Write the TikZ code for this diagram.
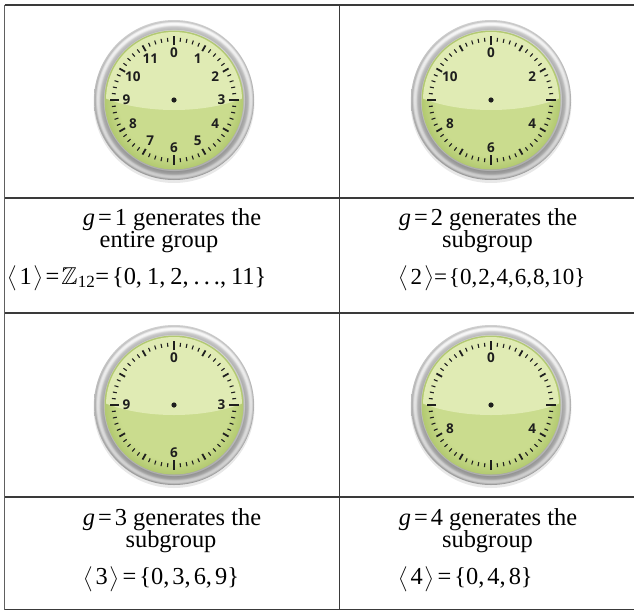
\RequirePackage{fix-cm}
\documentclass[tikz,border=0pt]{standalone}
\usepackage{amsmath,amssymb}
\usepackage{fontspec}
\setmainfont{Liberation Serif}
\newfontfamily\dialfont{Open Sans}

\definecolor{faceHi}{HTML}{E0EBB4}
\definecolor{faceLo}{HTML}{CADC8E}
\definecolor{faceRim}{HTML}{B2C970}
\definecolor{gridline}{HTML}{3A3A3A}
\definecolor{inkdark}{HTML}{1E1E1E}

% green dial: flat centre, darker towards the rim (25bp = face radius)
\pgfdeclareradialshading{dialface}{\pgfpoint{0bp}{0bp}}{%
  color(0bp)=(faceLo); color(20bp)=(faceLo); color(25bp)=(faceRim); color(50bp)=(faceRim)}
% metal bezel rings (25bp = outer radius 80)
\pgfdeclareradialshading{bezel}{\pgfpoint{0bp}{0bp}}{%
  color(0bp)=(gray!50); color(21.5bp)=(gray!50); color(21.8bp)=(gray!25);
  color(22.2bp)=(gray!62); color(23.0bp)=(gray!48); color(23.5bp)=(gray!12);
  color(24.0bp)=(white); color(24.4bp)=(gray!25); color(24.8bp)=(gray!60);
  color(25bp)=(gray!45); color(50bp)=(gray!45)}

% angle-bracket generator notation and set punctuation
\newcommand{\gen}[1]{{\fontsize{21}{21}\selectfont$\big\langle$}\hspace{2.5pt}#1\hspace{2pt}{\fontsize{21}{21}\selectfont$\big\rangle$}}
\newcommand{\eqsign}{\hspace{3pt}=\hspace{3pt}}
\newcommand{\cm}{,\hspace{3pt}}
\newcommand{\wcm}{,\hspace{5pt}}
\newcommand{\wdots}{.\hspace{4pt}.\hspace{4pt}.}

\tikzset{
  x=1pt, y=1pt,
  txt/.style={font=\fontsize{24.4}{27}\selectfont, inner sep=0pt, text=black},
  dial/.style={font=\dialfont\bfseries\fontsize{13.5}{13.5}\selectfont, text=inkdark, inner sep=0pt},
  gridrule/.style={draw=gridline, line width=1.5pt},
  pics/clock/.style={code={
    % soft shadow under the bezel
    \fill[black!9] (0,-2.5) circle (80.5);
    % metal bezel
    \shade[shading=bezel] (0,0) circle (80);
    \shade[top color=white, bottom color=black, opacity=0.18, even odd rule]
      (0,0) circle (80) (0,0) circle (69);
    % dial face with glossy upper half
    \shade[shading=dialface] (0,0) circle (69.5);
    \begin{scope}
      \clip (0,0) circle (68);
      \fill[faceHi] (0,33) ellipse (100 and 43);
    \end{scope}
    % minute and hour marks
    \foreach \m in {0,...,59} {
      \pgfmathtruncatemacro{\q}{mod(\m,15)}
      \pgfmathtruncatemacro{\f}{mod(\m,5)}
      \ifnum\q=0
        \draw[inkdark, line width=2.8pt] ({90-6*\m}:55) -- ({90-6*\m}:64.5);
      \else\ifnum\f=0
        \draw[inkdark, line width=1.8pt] ({90-6*\m}:56.5) -- ({90-6*\m}:63);
      \else
        \draw[inkdark, line width=1.1pt] ({90-6*\m}:58.5) -- ({90-6*\m}:62.5);
      \fi\fi
    }
    % hour numerals
    \foreach \h in {#1}
      \node[dial] (n\h) at ({90-30*\h}:47.5) {\h};
    \fill[inkdark] (0,0) circle (2.6);
  }}
}

\begin{document}
\begin{tikzpicture}
\useasboundingbox (0,0) rectangle (634,-611);

% table grid
\coordinate (tl) at (4.5,-5);
\coordinate (tr) at (634,-5);
\coordinate (bl) at (4.5,-609.5);
\coordinate (br) at (634,-609.5);
\coordinate (mt) at (339.5,-5);
\coordinate (mb) at (339.5,-609.5);
\coordinate (h1l) at (4.5,-198);   \coordinate (h1r) at (634,-198);
\coordinate (h2l) at (4.5,-313);   \coordinate (h2r) at (634,-313);
\coordinate (h3l) at (4.5,-497);   \coordinate (h3r) at (634,-497);

% clocks
\pic (ca) at (174,-100) {clock={0,1,2,3,4,5,6,7,8,9,10,11}};
\pic (cb) at (491,-100) {clock={0,2,4,6,8,10}};
\pic (cc) at (174,-405) {clock={0,3,6,9}};
\pic (cd) at (491,-405) {clock={0,4,8}};

% captions
\node[txt, anchor=base] (a1) at (172,-225) {\textit{g}\eqsign 1 generates the};
\node[txt, anchor=base] (a2) at (159,-247.5) {entire group};
\node[txt, anchor=base west] (a3) at (7,-284) {\gen{1}\hspace{2pt}=\hspace{2pt}$\mathbb{Z}$\textsubscript{12}=\hspace{3pt}\{0\wcm 1\wcm 2\wcm\wdots\wcm 11\}};

\node[txt, anchor=base] (b1) at (488,-225) {\textit{g}\eqsign 2 generates the};
\node[txt, anchor=base] (b2) at (487.5,-247.5) {subgroup};
\node[txt, anchor=base west, font=\fontsize{23}{26}\selectfont] (b3) at (398,-284) {\gen{2}=\hspace{2pt}\{0,\hspace{1pt}2,\hspace{1pt}4,\hspace{1pt}6,\hspace{1pt}8,\hspace{1pt}10\}};

\node[txt, anchor=base] (c1) at (172,-525) {\textit{g}\eqsign 3 generates the};
\node[txt, anchor=base] (c2) at (171,-547.5) {subgroup};
\node[txt, anchor=base west] (c3) at (83,-584.5) {\gen{3}\eqsign\{0\cm 3\cm 6\cm 9\}};

\node[txt, anchor=base] (d1) at (488,-525) {\textit{g}\eqsign 4 generates the};
\node[txt, anchor=base] (d2) at (487.5,-547.5) {subgroup};
\node[txt, anchor=base west] (d3) at (398,-584.5) {\gen{4}\eqsign\{0\cm 4\cm 8\}};

% grid lines on top
\draw[gridrule, draw=gray!75!black] (tl) -- (bl);
\draw[gridrule] (tl) -- (tr);
\draw[gridrule] (bl) -- (br);
\draw[gridrule] (mt) -- (mb);
\draw[gridrule] (h1l) -- (h1r);
\draw[gridrule] (h2l) -- (h2r);
\draw[gridrule] (h3l) -- (h3r);
\end{tikzpicture}
\end{document}
